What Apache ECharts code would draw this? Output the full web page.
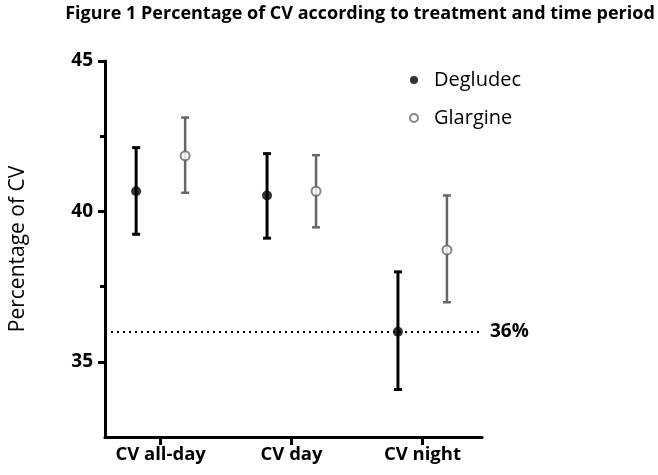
<!DOCTYPE html>
<html>
<head>
<meta charset="utf-8">
<script src="https://cdn.jsdelivr.net/npm/echarts@6/dist/echarts.min.js"></script>
<style>
html, body { margin: 0; padding: 0; background: #fff; }
#chart { width: 658px; height: 475px; }
</style>
</head>
<body>
<div id="chart"></div>
<script>
const categories = ['CV all-day', 'CV day', 'CV night']
const degludecMean = [40.67, 40.53, 36.0]
const degludecLow = [39.24, 39.11, 34.08]
const degludecHigh = [42.12, 41.92, 37.99]
const glargineMean = [41.85, 40.67, 38.72]
const glargineLow = [40.62, 39.47, 36.98]
const glargineHigh = [43.12, 41.87, 40.53]
const yTicks = [35, 40, 45]
const yMinorTicks = [37.5, 42.5]
const threshold = 36

const font = '"Open Sans", "Liberation Sans", sans-serif'
const OFFSET = 24.5 // px, dodge of the two groups

function pointData(means) {
  return means.map((v, i) => [i + 1, v])
}
function barData(low, high) {
  return low.map((v, i) => [i + 1, v, high[i]])
}
function errorBar(color, width, dx) {
  return function (params, api) {
    const top = api.coord([api.value(0), api.value(2)])
    const bot = api.coord([api.value(0), api.value(1)])
    const x = top[0] + dx
    const style = { stroke: color, lineWidth: width }
    return {
      type: 'group',
      children: [
        { type: 'line', shape: { x1: x, y1: top[1], x2: x, y2: bot[1] }, style },
        { type: 'line', shape: { x1: x - 4, y1: top[1], x2: x + 4, y2: top[1] }, style },
        { type: 'line', shape: { x1: x - 4, y1: bot[1], x2: x + 4, y2: bot[1] }, style },
      ],
    }
  }
}

const chart = echarts.init(document.getElementById('chart'))
chart.setOption({
  animation: false,
  title: {
    text: 'Figure 1 Percentage of CV according to treatment and time period',
    left: 355,
    textAlign: 'center',
    top: 0,
    textStyle: { fontFamily: font, fontWeight: 'bold', fontSize: 18, color: '#000' },
  },
  legend: {
    orient: 'vertical',
    left: 404,
    top: 65,
    itemWidth: 8,
    itemHeight: 8,
    itemGap: 18,
    icon: 'circle',
    data: ['Degludec', 'Glargine'],
    textStyle: { fontFamily: font, fontSize: 20, color: '#000', padding: [0, 0, 0, 11] },
  },
  grid: { left: 102, right: 176, top: 61, bottom: 38 },
  xAxis: {
    type: 'value',
    min: 0.575,
    max: 3.455,
    axisLine: { show: true, lineStyle: { color: '#000', width: 3 } },
    axisTick: { show: true, customValues: [1, 2, 3], length: 8, lineStyle: { color: '#000', width: 3 } },
    axisLabel: {
      customValues: [1, 2, 3],
      formatter: v => categories[Math.round(v) - 1],
      margin: 8,
      fontFamily: font, fontWeight: 'bold', fontSize: 18.5, color: '#000',
    },
    splitLine: { show: false },
  },
  yAxis: [{
    type: 'value',
    min: 32.5,
    max: 45,
    name: 'Percentage of CV',
    nameLocation: 'middle',
    nameGap: 76,
    nameTextStyle: { fontFamily: font, fontSize: 21, color: '#000' },
    axisLine: { show: true, lineStyle: { color: '#000', width: 3 } },
    axisTick: { show: true, customValues: yTicks, length: 7, lineStyle: { color: '#000', width: 3 } },
    axisLabel: {
      customValues: yTicks,
      margin: 12,
      fontFamily: font, fontWeight: 'bold', fontSize: 19, color: '#000',
    },
    splitLine: { show: false },
  }, {
    type: 'value',
    min: 32.5,
    max: 45,
    position: 'left',
    axisLine: { show: false },
    axisTick: { show: true, customValues: yMinorTicks, length: 5, lineStyle: { color: '#000', width: 3 } },
    axisLabel: { show: false },
    splitLine: { show: false },
  }],
  series: [{
    type: 'custom',
    renderItem: errorBar('#000', 3, -OFFSET),
    data: barData(degludecLow, degludecHigh),
    z: 2,
    silent: true,
  }, {
    type: 'custom',
    renderItem: errorBar('#666', 2.5, OFFSET),
    data: barData(glargineLow, glargineHigh),
    z: 2,
    silent: true,
  }, {
    name: 'Degludec',
    type: 'scatter',
    symbol: 'circle',
    symbolSize: 10,
    symbolOffset: [-OFFSET, 0],
    itemStyle: { color: '#000' },
    data: pointData(degludecMean),
    z: 3,
    markLine: {
      silent: true,
      symbol: 'none',
      lineStyle: { color: '#000', type: [2, 4], width: 2 },
      label: {
        position: 'end',
        distance: 8,
        formatter: threshold + '%',
        fontFamily: font, fontWeight: 'bold', fontSize: 19, color: '#000',
      },
      data: [{ yAxis: threshold }],
    },
  }, {
    name: 'Glargine',
    type: 'scatter',
    symbol: 'circle',
    symbolSize: 9,
    symbolOffset: [OFFSET, 0],
    itemStyle: { color: '#fff', borderColor: '#666', borderWidth: 2 },
    data: pointData(glargineMean),
    z: 3,
  }],
})
</script>
</body>
</html>
